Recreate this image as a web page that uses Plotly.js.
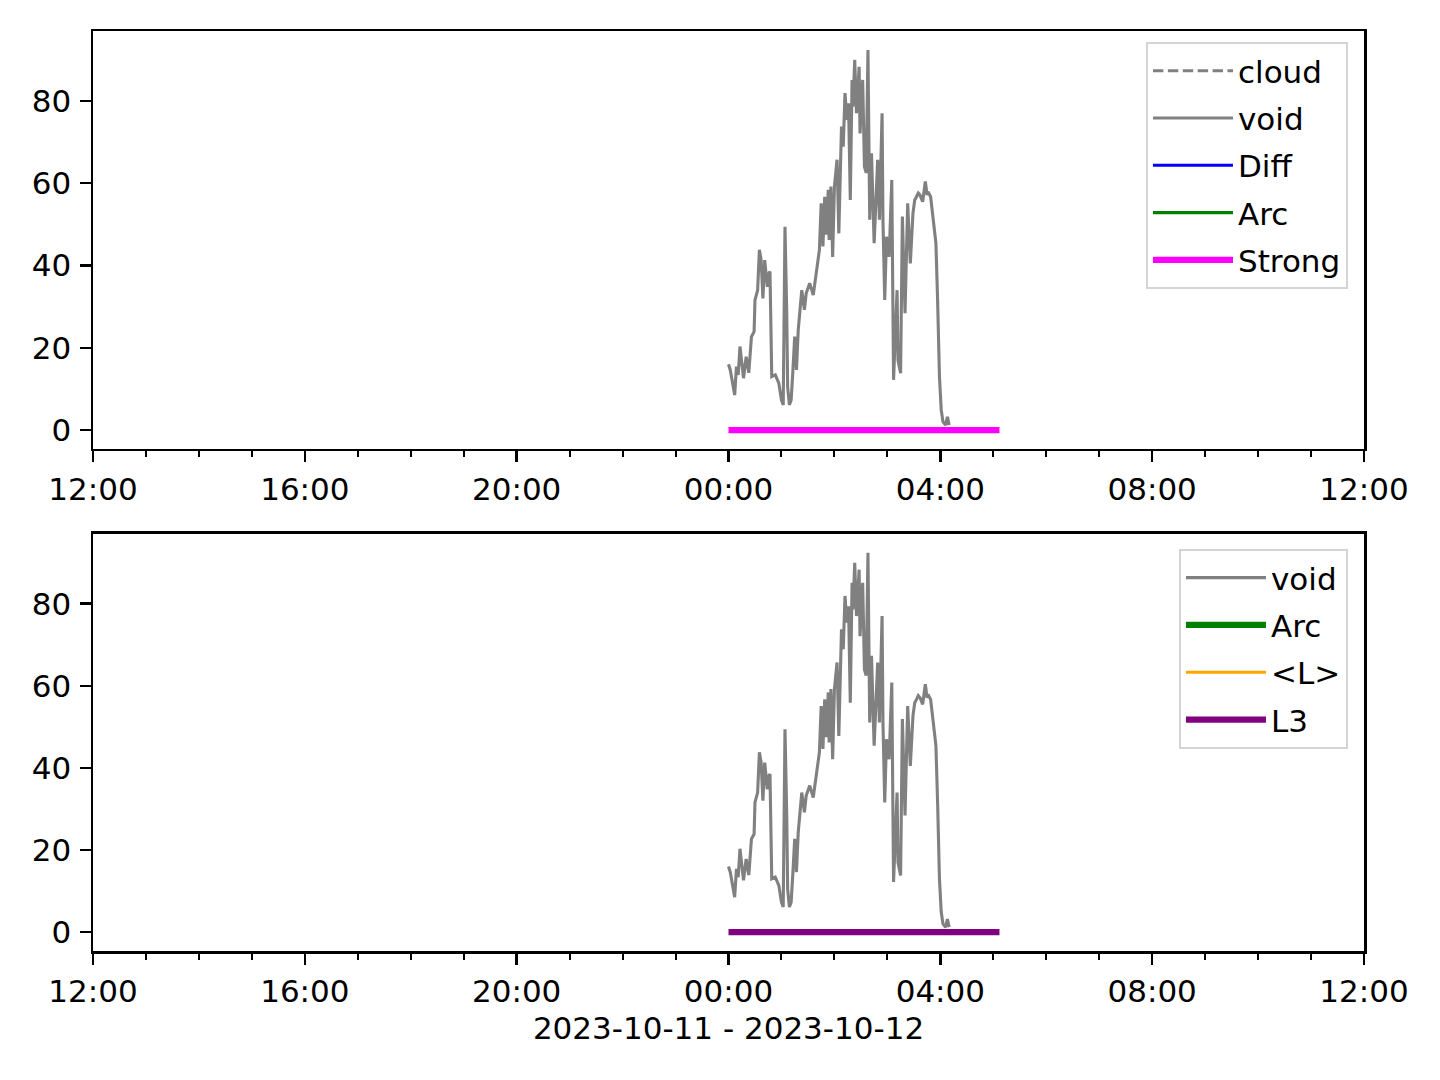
<!DOCTYPE html>
<html>
<head>
<meta charset="utf-8">
<script src="https://cdn.plot.ly/plotly-3.0.1.min.js"></script>
<style>
  html, body { margin: 0; padding: 0; background: #fff; }
  #chart { width: 1440px; height: 1080px; }
</style>
</head>
<body>
<div id="chart"></div>
<script>
// ---- data ----
const day = "2023-10-12";
const voidTimes = [
  "00:00","00:02","00:07","00:09","00:11","00:13","00:17","00:20","00:23","00:26",
  "00:29","00:30","00:33","00:35","00:37","00:39","00:41","00:44","00:46","00:47",
  "00:49","00:53","00:57","01:00","01:02","01:04","01:06","01:07","01:09","01:11",
  "01:13","01:15","01:17","01:19","01:23","01:26","01:28","01:32","01:36","01:40",
  "01:43","01:45","01:47","01:49","01:51","01:53","01:54","01:56","01:58","02:00",
  "02:03","02:05","02:08","02:10","02:12","02:14","02:16","02:18","02:20","02:21",
  "02:23","02:25","02:28","02:29","02:32","02:34","02:36","02:38","02:40","02:42",
  "02:45","02:49","02:51","02:54","02:55","02:57","02:59","03:02","03:05","03:07",
  "03:09","03:11","03:12","03:15","03:17","03:20","03:23","03:26","03:29","03:31",
  "03:33","03:35","03:37","03:40","03:43","03:45","03:46","03:49","03:52","03:55",
  "03:57","03:59","04:01","04:03","04:06","04:08","04:10"
];
const voidValues = [
  16.0,14.6,8.5,15.4,13.4,20.3,12.6,17.8,13.9,22.7,
  23.9,31.6,34.0,43.8,41.3,32.0,41.3,34.8,38.2,38.5,
  13.0,13.4,11.4,7.3,6.1,49.4,28.4,10.5,6.1,7.3,
  14.6,22.7,14.6,24.3,34.0,29.2,33.2,35.7,32.8,38.9,
  43.8,55.1,44.6,56.7,47.5,58.4,46.2,59.2,42.1,59.2,
  65.7,47.8,73.8,68.9,81.9,75.4,79.4,55.9,85.1,78.6,
  90.0,77.0,88.3,72.1,85.1,64.0,62.5,92.4,51.1,67.3,
  45.4,65.7,51.1,77.0,51.1,31.6,47.0,42.1,60.8,12.2,
  26.0,34.0,17.0,13.8,51.9,28.4,55.1,40.5,52.7,55.9,
  56.7,57.6,57.1,55.5,60.4,57.1,57.9,56.7,51.1,45.4,
  30.8,13.0,4.9,2.0,1.2,3.2,1.2
];
const strongTimes = ["00:00","05:07"];
const strongValues = [0, 0];
const l3Times = ["00:00","05:07"];
const l3Values = [0, 0];
const xStart = "2023-10-11 12:00";
const xEnd = "2023-10-12 12:00";
const xLabel = "2023-10-11 - 2023-10-12";
const yTicks = [0, 20, 40, 60, 80];

const toX = arr => arr.map(t => day + " " + t);

// ---- styles ----
const FONT = "DejaVu Sans, sans-serif";
const FS = 31;
const LW1 = 3.1, LW2 = 6.25;

function emptyTrace(name, color, width, dash, yaxis, legend, grp) {
  return {type: "scatter", mode: "lines", x: [null], y: [null], name: name,
    line: {color: color, width: width, dash: dash || "solid"},
    xaxis: yaxis === "y2" ? "x2" : "x", yaxis: yaxis, legend: legend, legendgroup: grp,
    hoverinfo: "skip"};
}

const traces = [
  // top panel
  emptyTrace("cloud", "#808080", LW1, "10.4px,4.5px", "y2", "legend", "a1"),
  {type: "scatter", mode: "lines", x: toX(voidTimes), y: voidValues, name: "void",
    line: {color: "#808080", width: LW1}, xaxis: "x2", yaxis: "y2", legend: "legend", legendgroup: "a2"},
  emptyTrace("Diff", "#0000ff", LW1, null, "y2", "legend", "a3"),
  emptyTrace("Arc", "#008000", LW1, null, "y2", "legend", "a4"),
  {type: "scatter", mode: "lines", x: toX(strongTimes), y: strongValues, name: "Strong",
    line: {color: "#ff00ff", width: LW2}, xaxis: "x2", yaxis: "y2", legend: "legend", legendgroup: "a5"},
  // bottom panel
  {type: "scatter", mode: "lines", x: toX(voidTimes), y: voidValues, name: "void",
    line: {color: "#808080", width: LW1}, xaxis: "x", yaxis: "y", legend: "legend2", legendgroup: "b1"},
  emptyTrace("Arc", "#008000", LW2, null, "y", "legend2", "b2"),
  emptyTrace("<L>", "#ffa500", LW1, null, "y", "legend2", "b3"),
  {type: "scatter", mode: "lines", x: toX(l3Times), y: l3Values, name: "L3",
    line: {color: "#800080", width: LW2}, xaxis: "x", yaxis: "y", legend: "legend2", legendgroup: "b4"}
];

function xAxis(anchor, title) {
  const a = {
    type: "date", range: [xStart, xEnd], anchor: anchor,
    tickformat: "%H:%M", dtick: 4 * 3600000, tick0: xStart,
    ticks: "outside", ticklen: 11, tickwidth: 2.5, tickcolor: "#000",
    showline: true, mirror: true, linecolor: "#000", linewidth: 2.5,
    showgrid: false, zeroline: false,
    tickfont: {family: FONT, size: FS, color: "#000"},
    ticklabelstandoff: 0,
    minor: {dtick: 3600000, tick0: xStart, ticks: "outside", ticklen: 6, tickwidth: 2, tickcolor: "#000", showgrid: false}
  };
  if (title) a.title = {text: title, font: {family: FONT, size: FS, color: "#000"}, standoff: 10};
  return a;
}
function yAxis(anchor, domain) {
  return {
    anchor: anchor, domain: domain, range: [-4.6, 97],
    tickmode: "array", tickvals: yTicks, ticktext: yTicks.map(String),
    ticks: "outside", ticklen: 11, tickwidth: 2.5, tickcolor: "#000",
    showline: true, mirror: true, linecolor: "#000", linewidth: 2.5,
    showgrid: false, zeroline: false,
    tickfont: {family: FONT, size: FS, color: "#000"},
    ticklabelstandoff: 2
  };
}
function legendBox(x, y) {
  return {
    x: x, y: y, xanchor: "right", yanchor: "top", xref: "paper", yref: "paper",
    bgcolor: "rgba(255,255,255,0.8)", bordercolor: "#d4d4d4", borderwidth: 2,
    font: {family: FONT, size: FS, color: "#000"},
    traceorder: "grouped", tracegroupgap: 4, itemwidth: 80
  };
}

const layout = {
  width: 1440, height: 1080,
  margin: {l: 93, r: 76, t: 31, b: 129},
  paper_bgcolor: "#fff", plot_bgcolor: "#fff",
  font: {family: FONT, size: FS, color: "#000"},
  showlegend: true,
  xaxis: xAxis("y", xLabel),
  yaxis: yAxis("x", [0, 0.4533]),
  xaxis2: xAxis("y2", null),
  yaxis2: yAxis("x2", [0.5457, 1]),
  legend: legendBox(0.9874, 0.9880),
  legend2: legendBox(0.9874, 0.437)
};

Plotly.newPlot("chart", traces, layout, {displayModeBar: false, staticPlot: true});
</script>
</body>
</html>
